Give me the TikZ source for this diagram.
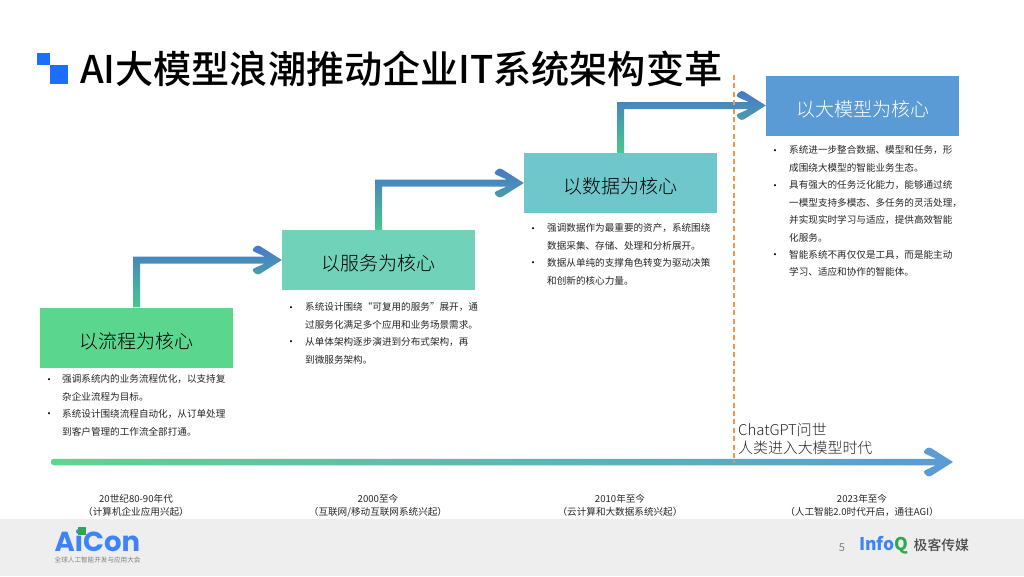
\documentclass[tikz,border=0pt]{standalone}
\usepackage{fontspec}
\setmainfont{Noto Sans CJK SC}
\newfontfamily\logofont{Poppins}
\newfontfamily\titlefont{Noto Sans CJK SC Medium}
\newfontfamily\lightfont{Noto Sans CJK SC Light}
\usetikzlibrary{calc}
\definecolor{bluesq}{HTML}{1A6FFF}
\definecolor{boxa}{HTML}{5BD68E}
\definecolor{boxb}{HTML}{70D2B8}
\definecolor{boxc}{HTML}{6FC7CB}
\definecolor{boxd}{HTML}{5B9BD5}
\definecolor{arrtop}{HTML}{4877C9}
\definecolor{arrmid}{HTML}{42A3B2}
\definecolor{arrbot}{HTML}{48C88C}
\definecolor{tlmid}{HTML}{50BDB4}
\definecolor{orangedash}{HTML}{F4954F}
\definecolor{foot}{HTML}{EEEEEE}
\definecolor{bodyc}{HTML}{262626}
\definecolor{logob}{HTML}{3E84F6}
\definecolor{logog}{HTML}{2FA84F}
\tikzset{
  stagebox/.style={minimum width=193pt,minimum height=60pt,inner sep=0pt,text height=21.4pt,text depth=0pt,font=\lightfont\fontsize{19}{22}\selectfont,text=black},
  bodytext/.style={anchor=north west,inner sep=0pt,align=left,text=bodyc,font=\fontsize{9.6}{17.45}\selectfont},
  bulletdot/.style={anchor=center,inner sep=0pt,text=black,font=\fontsize{10}{10}\selectfont},
  eralabel/.style={anchor=center,inner sep=0pt,align=center,text=bodyc,font=\fontsize{9.6}{12.8}\selectfont},
  elbowarrow/.style={top color=arrtop,middle color=arrmid,bottom color=arrbot,draw=none},
  timearrow/.style={left color=boxa,middle color=tlmid,right color=boxd,draw=none},
  milestone/.style={draw=orangedash,line width=2pt,dash pattern=on 5pt off 3.4pt},
}
\newcommand{\elbowto}[2]{%
  \path[elbowarrow] let \p1=(#1.north),\p2=(#2.west) in
    (\x1-3.5pt,\y1) -- (\x1-3.5pt,\y2+3.5pt) -- (\x2-17pt,\y2+3.5pt)
    [rounded corners=3pt] -- (\x2-30.5pt,\y2+9.5pt) -- (\x2-24.5pt,\y2+15.5pt) [sharp corners]
    -- (\x2,\y2)
    [rounded corners=3pt] -- (\x2-24.5pt,\y2-15.5pt) -- (\x2-30.5pt,\y2-9.5pt) [sharp corners]
    -- (\x2-17pt,\y2-3.5pt) -- (\x1+3.5pt,\y2-3.5pt) -- (\x1+3.5pt,\y1) -- cycle;}
\begin{document}
\begin{tikzpicture}[x=1pt,y=-1pt]
\useasboundingbox (0,0) rectangle (1024,576);
\fill[white] (0,0) rectangle (1024,576);
\fill[foot] (0,519) rectangle (1024,576);
% title mark
\fill[bluesq] (37,53) rectangle (49.5,65);
\fill[bluesq] (49.5,65) rectangle (68,84);
\node[anchor=west,inner sep=0pt,text=black,font=\titlefont\fontsize{38.1}{40}\selectfont] (title) at (80,69) {AI大模型浪潮推动企业IT系统架构变革};
% stage boxes
\node[stagebox,fill=boxa] (s1) at (136.5,337.5) {以流程为核心};
\node[stagebox,fill=boxb] (s2) at (378.5,260) {以服务为核心};
\node[stagebox,fill=boxc] (s3) at (620.5,183) {以数据为核心};
\node[stagebox,fill=boxd,text=white] (s4) at (862.5,105.5) {以大模型为核心};
% elbow connectors
\elbowto{s1}{s2}
\elbowto{s2}{s3}
\elbowto{s3}{s4}
% body text
\node[bodytext] (t1) at (62,374.5) {强调系统内的业务流程优化，以支持复\\杂企业流程为目标。\\系统设计围绕流程自动化，从订单处理\\到客户管理的工作流全部打通。};
\node[bulletdot] (b1a) at (49,381.5) {•};
\node[bulletdot] (b1b) at (49,415.5) {•};
\node[bodytext] (t2) at (305,302.5) {系统设计围绕“可复用的服务”展开，通\\过服务化满足多个应用和业务场景需求。\\从单体架构逐步演进到分布式架构，再\\到微服务架构。};
\node[bulletdot] (b2a) at (291,309) {•};
\node[bulletdot] (b2b) at (291,343) {•};
\node[bodytext] (t3) at (547,223.5) {强调数据作为最重要的资产，系统围绕\\数据采集、存储、处理和分析展开。\\数据从单纯的支撑角色转变为驱动决策\\和创新的核心力量。};
\node[bulletdot] (b3a) at (533,230) {•};
\node[bulletdot] (b3b) at (533,264) {•};
\node[bodytext] (t4) at (789,145.5) {系统进一步整合数据、模型和任务，形\\成围绕大模型的智能业务生态。\\具有强大的任务泛化能力，能够通过统\\一模型支持多模态、多任务的灵活处理，\\并实现实时学习与适应，提供高效智能\\化服务。\\智能系统不再仅仅是工具，而是能主动\\学习、适应和协作的智能体。};
\node[bulletdot] (b4a) at (775,152) {•};
\node[bulletdot] (b4b) at (775,187) {•};
\node[bulletdot] (b4c) at (775,256) {•};
% timeline
\coordinate (tla) at (54,462);
\coordinate (tlb) at (953,462);
\path[timearrow] let \p1=(tla),\p2=(tlb) in
  (\x1,\y1+3.25pt) -- (\x2-17pt,\y2+3.25pt)
  [rounded corners=3pt] -- (\x2-30.5pt,\y2+9.5pt) -- (\x2-24.5pt,\y2+15.5pt) [sharp corners]
  -- (\x2,\y2)
  [rounded corners=3pt] -- (\x2-24.5pt,\y2-15.5pt) -- (\x2-30.5pt,\y2-9.5pt) [sharp corners]
  -- (\x2-17pt,\y2-3.25pt) -- (\x1,\y1-3.25pt)
  arc[start angle=-90,end angle=-270,radius=3.25pt] -- cycle;
\coordinate (dashtop) at (733.5,75);
\coordinate (dashend) at (733.5,463);
\draw[milestone] (dashtop) -- (dashend);
\node[anchor=north west,inner sep=0pt,align=left,text=bodyc,font=\lightfont\fontsize{14.9}{18.5}\selectfont] (gpt) at (738,422.5) {ChatGPT问世\\人类进入大模型时代};
% era labels
\node[eralabel] (e1) at (136,505.5) {20世纪80-90年代\\（计算机企业应用兴起）};
\node[eralabel] (e2) at (378,505.5) {2000至今\\（互联网/移动互联网系统兴起）};
\node[eralabel] (e3) at (620,505.5) {2010年至今\\（云计算和大数据系统兴起）};
\node[eralabel] (e4) at (862,505.5) {2023年至今\\（人工智能2.0时代开启，通往AGI）};
% footer
\node[anchor=base west,inner sep=0pt,text height=20pt,text depth=0pt,text=logob,font=\logofont\bfseries\fontsize{27.5}{30}\selectfont] (aicon) at (54.5,551.5) {AiCon};
\fill[logog] (78,527) rectangle (85.5,535);
\node[anchor=base west,inner sep=0pt,text height=6pt,text depth=0pt,text=gray,font=\fontsize{6.6}{8}\selectfont] (aicons) at (54.5,562.5) {全球人工智能开发与应用大会};
\node[anchor=center,inner sep=0pt,text=gray,font=\fontsize{11}{13}\selectfont] (pg) at (842,547.5) {5};
\node[anchor=west,inner sep=0pt,font=\titlefont\bfseries\fontsize{17.5}{20}\selectfont] (infoq) at (859,545) {\textcolor{logob}{Info}\textcolor{logog}{Q}};
\node[anchor=west,inner sep=0pt,text=black!70,font=\titlefont\fontsize{13.8}{16}\selectfont] (jike) at (913.5,545) {极客传媒};
\end{tikzpicture}
\end{document}
